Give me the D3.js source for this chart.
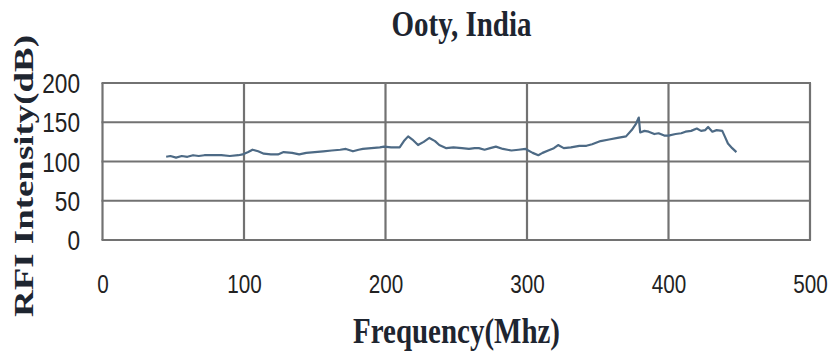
<!DOCTYPE html>
<html>
<head>
<meta charset="utf-8">
<script src="https://cdn.jsdelivr.net/npm/d3@7"></script>
<style>
  body { margin: 0; background: #fff; }
  svg { display: block; }
</style>
</head>
<body>
<div id="chart"></div>
<script>
// values
const freq = [45, 48, 52, 56, 60, 64, 68, 72, 78, 84, 90, 96, 99, 103, 106, 110, 114, 119, 124, 128, 134, 139, 144, 150, 156, 162, 168, 172, 177, 181, 184, 190, 196, 199, 204, 210, 213, 216, 219, 223, 227, 231, 235, 238, 243, 248, 254, 259, 263, 266, 270, 274, 278, 283, 289, 294, 299, 304, 308, 311, 315, 319, 322, 326, 331, 337, 342, 346, 352, 358, 364, 370, 374, 377, 379, 380, 383, 386, 390, 393, 397, 400, 405, 409, 412, 416, 420, 423, 426, 428, 431, 434, 438, 440, 442, 445, 448];
const rfi = [106, 107, 105, 107, 106, 108, 107, 108, 108, 108, 107, 108, 109, 112, 115, 113, 110, 109, 109, 112, 111, 109, 111, 112, 113, 114, 115, 116, 113, 115, 116, 117, 118, 119, 118, 118, 126, 132, 128, 121, 125, 130, 126, 121, 117, 118, 117, 116, 117, 117, 115, 117, 119, 116, 114, 115, 116, 111, 108, 111, 114, 117, 121, 117, 118, 120, 120, 122, 126, 128, 130, 132, 140, 148, 156, 137, 139, 138, 135, 136, 133, 133, 135, 136, 138, 139, 142, 139, 140, 144, 138, 140, 139, 131, 123, 117, 112];
const xTicks = [0, 100, 200, 300, 400, 500];
const yTicks = [0, 50, 100, 150, 200];

const W = 834, H = 356;
const plotLeft = 102.5, plotRight = 810, plotTop = 83, plotBottom = 240;

const svg = d3.select("#chart")
  .append("svg")
  .attr("width", W)
  .attr("height", H);

const x = d3.scaleLinear().domain([0, 500]).range([plotLeft, plotRight]);
const y = d3.scaleLinear().domain([0, 200]).range([plotBottom, plotTop]);

// grid + border
const grid = svg.append("g");
grid.selectAll("line.v")
  .data(xTicks)
  .join("line")
  .attr("class", "v")
  .attr("x1", d => x(d)).attr("x2", d => x(d))
  .attr("y1", plotTop).attr("y2", plotBottom)
  .attr("stroke", "#727272")
  .attr("stroke-width", 2.2);
grid.selectAll("line.h")
  .data(yTicks)
  .join("line")
  .attr("class", "h")
  .attr("x1", plotLeft - 1).attr("x2", plotRight + 1)
  .attr("y1", d => y(d)).attr("y2", d => y(d))
  .attr("stroke", "#727272")
  .attr("stroke-width", 2.2);

// axes (labels only)
const xAxis = svg.append("g")
  .attr("transform", `translate(0, ${plotBottom})`)
  .call(d3.axisBottom(x).tickValues(xTicks).tickSize(0).tickFormat(d3.format("d")));
xAxis.select(".domain").remove();
xAxis.selectAll("text")
  .attr("y", 53).attr("dy", 0)
  .style("font-family", "'Liberation Sans', Arial, sans-serif")
  .style("font-size", "25px")
  .attr("fill", "#222")
  .attr("textLength", d => String(d).length * 11.5)
  .attr("lengthAdjust", "spacingAndGlyphs");

const yAxis = svg.append("g")
  .attr("transform", `translate(${plotLeft}, 0)`)
  .call(d3.axisLeft(y).tickValues(yTicks).tickSize(0).tickPadding(22.5));
yAxis.select(".domain").remove();
yAxis.selectAll("text")
  .attr("dy", 0).attr("y", 9.5)
  .style("font-family", "'Liberation Sans', Arial, sans-serif")
  .style("font-size", "27px")
  .attr("fill", "#222")
  .attr("textLength", d => String(d).length * 12.6)
  .attr("lengthAdjust", "spacingAndGlyphs");

// the series
const line = d3.line()
  .x((d, i) => x(freq[i]))
  .y(d => y(d));
svg.append("path")
  .datum(rfi)
  .attr("fill", "none")
  .attr("stroke", "#4d6a85")
  .attr("stroke-width", 2.2)
  .attr("stroke-linejoin", "round")
  .attr("d", line);

// titles
const serif = "'Liberation Serif', 'Times New Roman', serif";
svg.append("text")
  .attr("x", 461.5).attr("y", 36)
  .attr("text-anchor", "middle")
  .style("font-family", serif)
  .style("font-weight", "bold")
  .style("font-size", "36px")
  .attr("fill", "#1e2530")
  .attr("textLength", 140)
  .attr("lengthAdjust", "spacingAndGlyphs")
  .text("Ooty, India");

svg.append("text")
  .attr("x", 456.5).attr("y", 343)
  .attr("text-anchor", "middle")
  .style("font-family", serif)
  .style("font-weight", "bold")
  .style("font-size", "35px")
  .attr("fill", "#1e2530")
  .attr("textLength", 207)
  .attr("lengthAdjust", "spacingAndGlyphs")
  .text("Frequency(Mhz)");

svg.append("text")
  .attr("transform", "translate(33, 176) rotate(-90)")
  .attr("text-anchor", "middle")
  .style("font-family", serif)
  .style("font-weight", "bold")
  .style("font-size", "28px")
  .attr("fill", "#1e2530")
  .attr("textLength", 282)
  .attr("lengthAdjust", "spacingAndGlyphs")
  .text("RFI Intensity(dB)");
</script>
</body>
</html>
